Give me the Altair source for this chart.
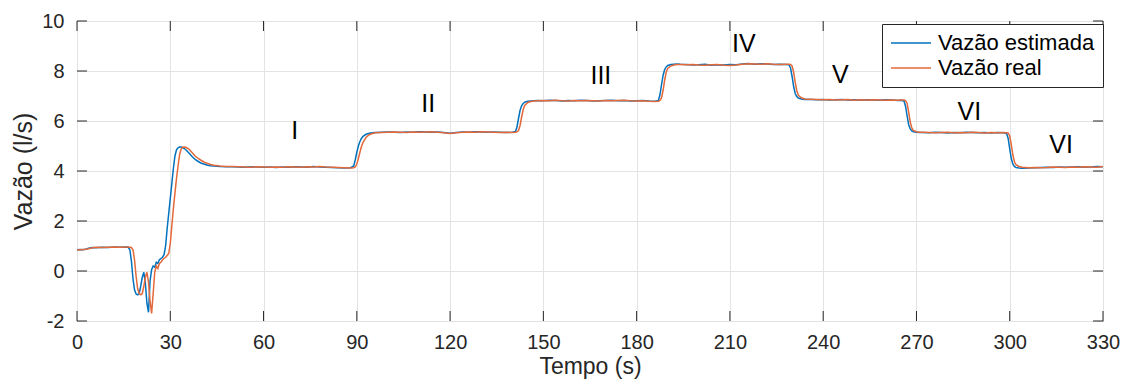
import altair as alt
import pandas as pd

# ---------------- data ----------------
x_ticks = [0, 30, 60, 90, 120, 150, 180, 210, 240, 270, 300, 330]
y_ticks = [-2, 0, 2, 4, 6, 8, 10]
series_names = ["Vazão estimada", "Vazão real"]

# start / first transient (0-48 s)
t0 = [0, 1, 2, 3, 4, 5, 6, 8, 10, 12, 14, 16,
      16.5, 17, 17.5, 18, 18.5, 19, 19.5, 20, 20.5, 21,
      21.5, 22, 22.5, 23, 23.5, 24, 24.5, 25, 25.5, 26,
      26.5, 27, 27.5, 28, 28.5, 29, 29.5, 30, 30.5, 31,
      31.5, 32, 32.5, 33, 33.5, 34, 34.5, 35,
      36, 37, 38, 39, 40, 41, 42, 43, 44, 46, 48]
est0 = [0.85, 0.86, 0.85, 0.88, 0.92, 0.94, 0.93, 0.95, 0.94, 0.96, 0.95, 0.96,
        0.95, 0.85, 0.40, -0.30, -0.75, -0.92, -0.95, -0.90, -0.60, -0.25,
        -0.05, -0.50, -1.30, -1.65, -0.40, 0.05, 0.20, 0.15, 0.35, 0.30,
        0.45, 0.50, 0.55, 0.65, 1.00, 1.70, 2.30, 2.90, 3.50, 4.10,
        4.60, 4.85, 4.93, 4.96, 4.96, 4.94, 4.90, 4.85,
        4.72, 4.58, 4.46, 4.38, 4.31, 4.27, 4.23, 4.21, 4.20, 4.18, 4.17]
real0 = [0.84, 0.85, 0.86, 0.87, 0.90, 0.93, 0.95, 0.94, 0.95, 0.96, 0.95, 0.96,
         0.96, 0.95, 0.94, 0.85, 0.45, -0.20, -0.70, -0.90, -0.95, -0.90,
         -0.60, -0.25, -0.05, -0.45, -1.20, -1.70, -0.90, -0.05, 0.20, 0.10,
         0.30, 0.35, 0.45, 0.50, 0.55, 0.62, 0.70, 1.10, 1.80, 2.50,
         3.10, 3.70, 4.20, 4.65, 4.88, 4.95, 4.96, 4.95,
         4.88, 4.74, 4.60, 4.50, 4.42, 4.35, 4.30, 4.26, 4.23, 4.20, 4.18]

# level I
t1 = [50, 52, 54, 56, 58, 60, 62, 64, 66, 68, 70, 72, 74, 76, 78, 80, 82, 84, 86, 88]
est1 = [4.17, 4.16, 4.15, 4.17, 4.16, 4.15, 4.16, 4.14, 4.16, 4.15,
        4.17, 4.16, 4.15, 4.18, 4.16, 4.15, 4.14, 4.13, 4.12, 4.13]
real1 = [4.18, 4.17, 4.16, 4.15, 4.17, 4.16, 4.15, 4.16, 4.15, 4.17,
         4.16, 4.15, 4.17, 4.16, 4.18, 4.16, 4.15, 4.14, 4.13, 4.12]

# step I -> II
tA = [89, 89.5, 90, 90.5, 91, 91.5, 92, 93, 94, 95, 96]
estA = [4.20, 4.45, 4.75, 5.00, 5.18, 5.30, 5.39, 5.47, 5.51, 5.53, 5.54]
realA = [4.13, 4.16, 4.28, 4.50, 4.75, 4.98, 5.15, 5.35, 5.45, 5.50, 5.53]

# level II
t2 = [98, 100, 102, 104, 106, 108, 110, 112, 114, 116, 118,
      120, 122, 124, 126, 128, 130, 132, 134, 136, 138, 140]
est2 = [5.55, 5.56, 5.55, 5.54, 5.56, 5.55, 5.57, 5.56, 5.55, 5.56, 5.54,
        5.51, 5.54, 5.56, 5.55, 5.57, 5.56, 5.55, 5.56, 5.55, 5.54, 5.55]
real2 = [5.54, 5.55, 5.56, 5.55, 5.54, 5.56, 5.55, 5.56, 5.57, 5.55, 5.53,
         5.50, 5.53, 5.55, 5.56, 5.55, 5.57, 5.56, 5.55, 5.54, 5.55, 5.54]

# step II -> III
tB = [141, 141.5, 142, 142.5, 143, 143.5, 144, 145, 146, 147]
estB = [5.58, 5.75, 6.10, 6.42, 6.61, 6.70, 6.75, 6.79, 6.80, 6.81]
realB = [5.55, 5.57, 5.62, 5.82, 6.15, 6.45, 6.62, 6.74, 6.78, 6.80]

# level III
t3 = [148, 150, 152, 154, 156, 158, 160, 162, 164, 166,
      168, 170, 172, 174, 176, 178, 180, 182, 184, 186]
est3 = [6.82, 6.81, 6.83, 6.82, 6.80, 6.82, 6.81, 6.83, 6.82, 6.80,
        6.81, 6.82, 6.83, 6.81, 6.82, 6.80, 6.81, 6.82, 6.80, 6.79]
real3 = [6.81, 6.82, 6.81, 6.83, 6.81, 6.80, 6.82, 6.81, 6.82, 6.81,
         6.80, 6.82, 6.81, 6.82, 6.83, 6.81, 6.80, 6.81, 6.79, 6.78]

# step III -> IV
tC = [187, 187.5, 188, 188.5, 189, 189.5, 190, 191, 192, 193]
estC = [6.82, 7.05, 7.45, 7.82, 8.05, 8.16, 8.22, 8.26, 8.27, 8.28]
realC = [6.79, 6.82, 6.92, 7.22, 7.62, 7.95, 8.10, 8.20, 8.24, 8.26]

# level IV
t4 = [194, 196, 198, 200, 202, 204, 206, 208, 210, 212, 214, 216, 218, 220, 222, 224, 226, 228]
est4 = [8.27, 8.26, 8.24, 8.25, 8.27, 8.23, 8.25, 8.24, 8.26,
        8.25, 8.28, 8.30, 8.27, 8.29, 8.28, 8.26, 8.27, 8.26]
real4 = [8.26, 8.25, 8.26, 8.24, 8.23, 8.25, 8.26, 8.23, 8.22,
         8.24, 8.27, 8.29, 8.28, 8.27, 8.29, 8.27, 8.26, 8.27]

# step IV -> V
tD = [229, 229.5, 230, 230.5, 231, 231.5, 232, 233, 234]
estD = [8.25, 8.12, 7.78, 7.38, 7.10, 6.98, 6.92, 6.88, 6.86]
realD = [8.27, 8.26, 8.20, 7.95, 7.55, 7.22, 7.03, 6.93, 6.88]

# level V
t5 = [236, 238, 240, 242, 244, 246, 248, 250, 252, 254, 256, 258, 260, 262, 264, 265]
est5 = [6.86, 6.85, 6.86, 6.84, 6.85, 6.86, 6.84, 6.85,
        6.83, 6.85, 6.84, 6.83, 6.85, 6.84, 6.82, 6.83]
real5 = [6.87, 6.86, 6.85, 6.86, 6.84, 6.85, 6.86, 6.83,
         6.85, 6.84, 6.85, 6.84, 6.83, 6.84, 6.83, 6.84]

# step V -> VI
tE = [266, 266.5, 267, 267.5, 268, 268.5, 269, 270, 271]
estE = [6.80, 6.58, 6.20, 5.85, 5.68, 5.60, 5.57, 5.55, 5.54]
realE = [6.84, 6.82, 6.70, 6.35, 5.96, 5.72, 5.62, 5.57, 5.55]

# level VI
t6 = [272, 274, 276, 278, 280, 282, 284, 286, 288, 290, 292, 294, 296, 298]
est6 = [5.54, 5.53, 5.55, 5.54, 5.52, 5.54, 5.53, 5.55, 5.54, 5.53, 5.54, 5.52, 5.54, 5.53]
real6 = [5.55, 5.54, 5.53, 5.54, 5.55, 5.53, 5.54, 5.53, 5.55, 5.54, 5.52, 5.54, 5.53, 5.54]

# step VI -> VII
tF = [299, 299.5, 300, 300.5, 301, 301.5, 302, 303, 304]
estF = [5.50, 5.30, 4.88, 4.50, 4.28, 4.18, 4.14, 4.12, 4.11]
realF = [5.53, 5.52, 5.40, 5.05, 4.65, 4.38, 4.25, 4.18, 4.15]

# last level
t7 = [306, 308, 310, 312, 314, 316, 318, 320, 322, 324, 326, 328, 330]
est7 = [4.12, 4.13, 4.14, 4.15, 4.14, 4.16, 4.15, 4.16, 4.17, 4.15, 4.16, 4.18, 4.17]
real7 = [4.13, 4.14, 4.13, 4.14, 4.16, 4.15, 4.14, 4.16, 4.15, 4.17, 4.16, 4.15, 4.18]

# stage labels
stage_labels = ["I", "II", "III", "IV", "V", "VI", "VI"]
stage_t = [70, 113, 168.5, 214.5, 245.5, 287, 316.5]
stage_v = [5.6, 6.7, 7.8, 9.1, 7.85, 6.35, 5.05]

# ---------------- build tables ----------------
time = t0 + t1 + tA + t2 + tB + t3 + tC + t4 + tD + t5 + tE + t6 + tF + t7
est = est0 + est1 + estA + est2 + estB + est3 + estC + est4 + estD + est5 + estE + est6 + estF + est7
real = real0 + real1 + realA + real2 + realB + real3 + realC + real4 + realD + real5 + realE + real6 + realF + real7
assert len(time) == len(est) == len(real)

df = pd.DataFrame({
    "t": time + time,
    "v": est + real,
    "s": [series_names[0]] * len(time) + [series_names[1]] * len(time),
    "o": [0] * len(time) + [1] * len(time),
})
df_lab = pd.DataFrame({"t": stage_t, "v": stage_v, "lab": stage_labels})
df_xt = pd.DataFrame({"t": x_ticks})
df_yt = pd.DataFrame({"v": y_ticks})

FONT = "Liberation Sans"
TXT = "#262626"

xs = alt.Scale(domain=[0, 330], nice=False, zero=False)
ys = alt.Scale(domain=[-2, 10], nice=False, zero=False)
x_axis = alt.Axis(values=x_ticks, title="Tempo (s)", labelPadding=11,
                  titlePadding=3, labelExpr="'' + datum.value", labelFlush=False,
                  titleFontSize=23)
y_axis = alt.Axis(values=y_ticks, title="Vazão (l/s)", labelPadding=13,
                  titlePadding=5, labelExpr="'' + datum.value", labelFlush=False,
                  titleFontSize=25)

lines = alt.Chart(df).mark_line(strokeWidth=1.5, clip=True).encode(
    x=alt.X("t:Q", scale=xs, axis=x_axis),
    y=alt.Y("v:Q", scale=ys, axis=y_axis),
    color=alt.Color("s:N",
                    scale=alt.Scale(domain=series_names, range=["#0072BD", "#E3683A"]),
                    legend=alt.Legend(title=None, orient="none", legendX=805, legendY=3,
                                      symbolType="M-1,0H3", symbolSize=400,
                                      symbolStrokeWidth=1.5, labelFontSize=22,
                                      labelFont=FONT, labelColor="#000000",
                                      fillColor="white", strokeColor=TXT,
                                      padding=8, rowPadding=3, labelOffset=26,
                                      labelLimit=300)),
    order="o:Q",
    detail="s:N",
)

labels = alt.Chart(df_lab).mark_text(fontSize=25, font=FONT, color="#000000",
                                     align="center", baseline="middle").encode(
    x=alt.X("t:Q", scale=xs, axis=x_axis),
    y=alt.Y("v:Q", scale=ys, axis=y_axis),
    text="lab:N",
)

tick_color = TXT
xt_bottom = alt.Chart(df_xt).mark_rule(color=tick_color, strokeWidth=1).encode(
    x=alt.X("t:Q", scale=xs, axis=x_axis),
    y=alt.YDatum(-2, scale=ys, axis=y_axis), y2=alt.datum(-1.6))
xt_top = alt.Chart(df_xt).mark_rule(color=tick_color, strokeWidth=1).encode(
    x=alt.X("t:Q", scale=xs, axis=x_axis),
    y=alt.YDatum(10, scale=ys, axis=y_axis), y2=alt.datum(9.6))
yt_left = alt.Chart(df_yt).mark_rule(color=tick_color, strokeWidth=1).encode(
    y=alt.Y("v:Q", scale=ys, axis=y_axis),
    x=alt.XDatum(0, scale=xs, axis=x_axis), x2=alt.datum(3.2))
yt_right = alt.Chart(df_yt).mark_rule(color=tick_color, strokeWidth=1).encode(
    y=alt.Y("v:Q", scale=ys, axis=y_axis),
    x=alt.XDatum(330, scale=xs, axis=x_axis), x2=alt.datum(326.8))

chart = alt.layer(lines, labels, xt_bottom, xt_top, yt_left, yt_right).properties(
    width=1026, height=300,
    autosize=alt.AutoSizeParams(type="none"),
    padding={"left": 69, "top": 13, "right": 21, "bottom": 60},
    background="white",
).configure_view(
    stroke=TXT, strokeWidth=1
).configure_axis(
    grid=True, gridColor="#e3e3e3", gridWidth=1,
    domain=False, ticks=False,
    labelFont=FONT, labelFontSize=20, labelColor=TXT,
    titleFont=FONT, titleFontWeight="normal", titleColor=TXT,
)

chart.save("out.html", embed_options={"renderer": "svg", "actions": False})
